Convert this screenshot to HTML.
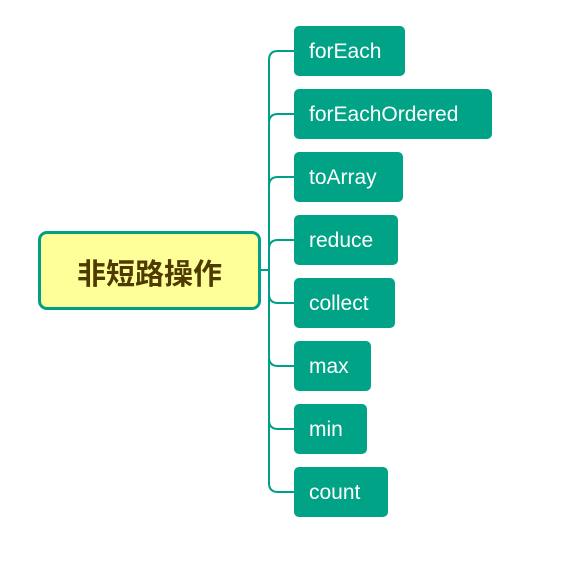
<!DOCTYPE html>
<html><head><style>
body{margin:0;width:574px;height:574px;background:#fff;position:relative;overflow:hidden;font-family:"Liberation Sans","Noto Sans CJK SC",sans-serif}
.root{position:absolute;left:38px;top:231px;width:217px;height:73px;background:#ffff99;border:3px solid #00a086;border-radius:9px;display:flex;align-items:center;justify-content:center;font-weight:bold;font-size:29px;color:#4f3a00;padding-top:3px;box-sizing:content-box;height:70px}
.c{position:absolute;left:294px;height:50px;background:#00a386;border-radius:5px;color:#fff;font-size:21px;line-height:52px;padding-left:15px;box-sizing:border-box}
</style></head><body>
<svg width="574" height="574" style="position:absolute;left:0;top:0">
<g fill="none" stroke="#00a086" stroke-width="2">
<path d="M261 270 H269"/>
<path d="M269 60 V484"/>
<path d="M294 51 H278 Q269 51 269 60"/>
<path d="M294 114 H278 Q269 114 269 123"/>
<path d="M294 177 H278 Q269 177 269 186"/>
<path d="M294 240 H278 Q269 240 269 249"/>
<path d="M294 303 H278 Q269 303 269 294"/>
<path d="M294 366 H278 Q269 366 269 357"/>
<path d="M294 429 H278 Q269 429 269 420"/>
<path d="M294 492 H278 Q269 492 269 483"/>
</g></svg>
<div class="root">非短路操作</div>
<div class="c" style="top:26px;width:111px">forEach</div>
<div class="c" style="top:89px;width:198px">forEachOrdered</div>
<div class="c" style="top:152px;width:109px">toArray</div>
<div class="c" style="top:215px;width:104px">reduce</div>
<div class="c" style="top:278px;width:101px">collect</div>
<div class="c" style="top:341px;width:77px">max</div>
<div class="c" style="top:404px;width:73px">min</div>
<div class="c" style="top:467px;width:94px">count</div>
</body></html>
